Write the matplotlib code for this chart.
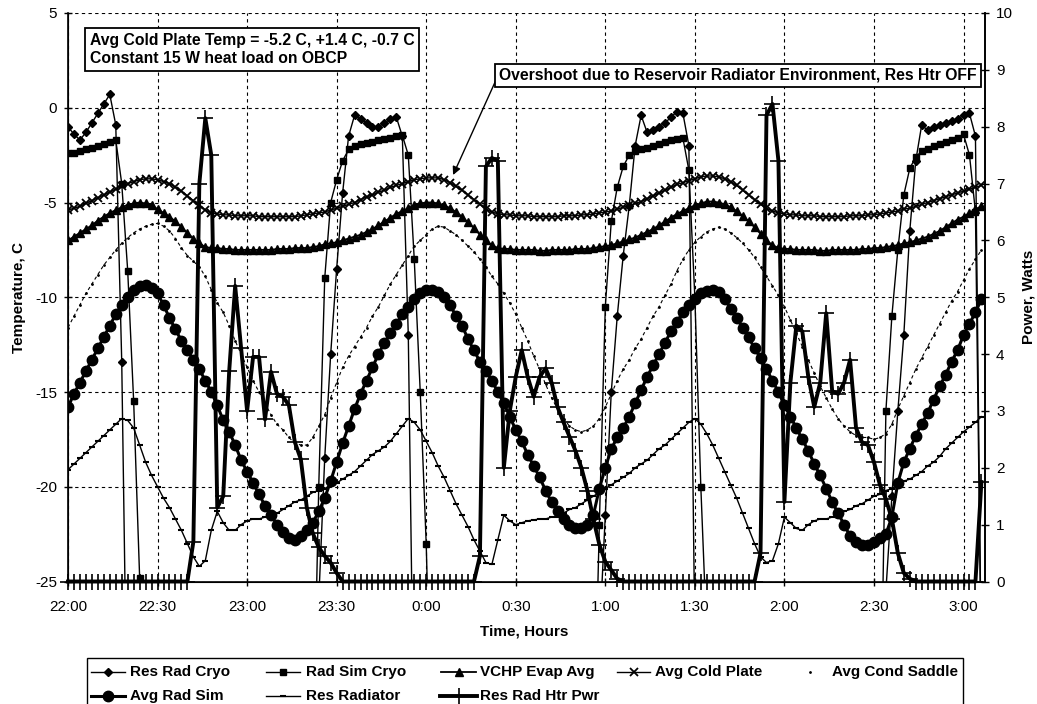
import numpy as np
import matplotlib
matplotlib.use("Agg")
import matplotlib.pyplot as plt
from matplotlib.lines import Line2D
from matplotlib.patches import Rectangle

plt.rcParams['font.family'] = ['Liberation Sans', 'DejaVu Sans']
plt.rcParams['axes.unicode_minus'] = False

W, H = 1037, 704

# samples every 2 minutes, counted from 22:00
minutes = np.arange(0, 307, 2)
hour_ticks = np.arange(0, 301, 30)
hour_labels = ['22:00', '22:30', '23:00', '23:30', '0:00', '0:30',
               '1:00', '1:30', '2:00', '2:30', '3:00']

LOW = -35.0   # readings below the -25 C floor of the chart

# temperatures, C
res_rad_cryo = [
    -1.0, -1.4, -1.7, -1.3, -0.8, -0.3, 0.2, 0.7, -0.9, -13.4,
    LOW, LOW, LOW, LOW, LOW, LOW, LOW, LOW, LOW, LOW,
    LOW, LOW, LOW, LOW, LOW, LOW, LOW, LOW, LOW, LOW,
    LOW, LOW, LOW, LOW, LOW, LOW, LOW, LOW, LOW, LOW,
    LOW, LOW, -26.0, -18.5, -13.0, -8.5, -4.5, -1.5, -0.4, -0.6,
    -0.8, -1.0, -1.0, -0.8, -0.6, -0.5, -1.5, -12.0, LOW, LOW,
    LOW, LOW, LOW, LOW, LOW, LOW, LOW, LOW, LOW, LOW,
    LOW, LOW, LOW, LOW, LOW, LOW, LOW, LOW, LOW, LOW,
    LOW, LOW, LOW, LOW, LOW, LOW, LOW, LOW, LOW, -28.0,
    -21.5, -15.0, -11.0, -7.8, -5.2, -2.0, -0.4, -1.3, -1.2, -1.0,
    -0.8, -0.5, -0.2, -0.3, -2.0, -28.0, LOW, LOW, LOW, LOW,
    LOW, LOW, LOW, LOW, LOW, LOW, LOW, LOW, LOW, LOW,
    LOW, LOW, LOW, LOW, LOW, LOW, LOW, LOW, LOW, LOW,
    LOW, LOW, LOW, LOW, LOW, LOW, LOW, -25.5, -20.5, -16.0,
    -12.0, -6.5, -2.8, -0.9, -1.2, -1.0, -0.9, -0.8, -0.7, -0.6,
    -0.4, -0.3, -1.5, -30.0,
]

rad_sim_cryo = [
    -2.4, -2.4, -2.3, -2.2, -2.1, -2.0, -1.9, -1.8, -1.7, -4.0,
    -8.6, -15.5, -24.8, LOW, LOW, LOW, LOW, LOW, LOW, LOW,
    LOW, LOW, LOW, LOW, LOW, LOW, LOW, LOW, LOW, LOW,
    LOW, LOW, LOW, LOW, LOW, LOW, LOW, LOW, LOW, LOW,
    LOW, LOW, -20.0, -9.0, -5.0, -3.8, -2.8, -2.2, -2.0, -1.9,
    -1.85, -1.8, -1.7, -1.65, -1.6, -1.5, -1.45, -2.5, -8.0, -15.0,
    -23.0, LOW, LOW, LOW, LOW, LOW, LOW, LOW, LOW, LOW,
    LOW, LOW, LOW, LOW, LOW, LOW, LOW, LOW, LOW, LOW,
    LOW, LOW, LOW, LOW, LOW, LOW, LOW, LOW, LOW, -22.0,
    -10.5, -6.0, -4.2, -3.1, -2.5, -2.3, -2.2, -2.1, -2.0, -1.9,
    -1.8, -1.7, -1.65, -1.6, -3.3, -10.0, -20.0, -28.0, LOW, LOW,
    LOW, LOW, LOW, LOW, LOW, LOW, LOW, LOW, LOW, LOW,
    LOW, LOW, LOW, LOW, LOW, LOW, LOW, LOW, LOW, LOW,
    LOW, LOW, LOW, LOW, LOW, LOW, LOW, -16.0, -11.0, -7.5,
    -4.6, -3.2, -2.6, -2.3, -2.2, -2.0, -1.9, -1.8, -1.7, -1.6,
    -1.4, -2.5, -5.5, -30.0,
]

vchp_evap = [
    -7.0, -6.8, -6.6, -6.4, -6.2, -5.95, -5.75, -5.55, -5.4, -5.25,
    -5.12, -5.05, -5.0, -5.05, -5.15, -5.35, -5.55, -5.75, -6.0, -6.3,
    -6.6, -6.9, -7.15, -7.35, -7.4, -7.4, -7.45, -7.45, -7.5, -7.5,
    -7.5, -7.5, -7.5, -7.5, -7.5, -7.45, -7.45, -7.45, -7.4, -7.4,
    -7.4, -7.35, -7.3, -7.2, -7.15, -7.1, -7.0, -6.9, -6.8, -6.7,
    -6.55, -6.4, -6.2, -6.0, -5.8, -5.6, -5.45, -5.3, -5.15, -5.05,
    -5.0, -5.0, -5.05, -5.15, -5.3, -5.5, -5.75, -6.05, -6.35, -6.7,
    -7.0, -7.25, -7.4, -7.45, -7.45, -7.5, -7.5, -7.5, -7.5, -7.55,
    -7.55, -7.5, -7.5, -7.5, -7.5, -7.45, -7.45, -7.45, -7.4, -7.35,
    -7.3, -7.25, -7.15, -7.05, -6.95, -6.85, -6.7, -6.55, -6.4, -6.2,
    -6.0, -5.8, -5.6, -5.45, -5.3, -5.15, -5.05, -4.95, -4.95, -5.0,
    -5.1, -5.25, -5.45, -5.7, -6.0, -6.3, -6.65, -7.0, -7.25, -7.4,
    -7.45, -7.45, -7.5, -7.5, -7.5, -7.5, -7.55, -7.55, -7.5, -7.5,
    -7.5, -7.5, -7.5, -7.45, -7.45, -7.4, -7.4, -7.35, -7.3, -7.25,
    -7.15, -7.1, -7.0, -6.9, -6.8, -6.65, -6.5, -6.3, -6.1, -5.9,
    -5.75, -5.55, -5.35, -5.2,
]

avg_cold_plate = [
    -5.4, -5.3, -5.2, -5.05, -4.9, -4.75, -4.6, -4.45, -4.3, -4.15,
    -4.0, -3.9, -3.8, -3.75, -3.75, -3.8, -3.9, -4.0, -4.2, -4.4,
    -4.65, -4.9, -5.15, -5.4, -5.55, -5.6, -5.65, -5.65, -5.7, -5.7,
    -5.7, -5.7, -5.75, -5.75, -5.75, -5.75, -5.75, -5.75, -5.75, -5.7,
    -5.65, -5.6, -5.55, -5.5, -5.4, -5.3, -5.2, -5.1, -5.0, -4.85,
    -4.7, -4.6, -4.45, -4.35, -4.2, -4.1, -4.0, -3.9, -3.8, -3.75,
    -3.7, -3.7, -3.7, -3.8, -3.95, -4.15, -4.35, -4.6, -4.85, -5.1,
    -5.35, -5.5, -5.6, -5.65, -5.65, -5.7, -5.7, -5.7, -5.75, -5.75,
    -5.75, -5.75, -5.75, -5.7, -5.7, -5.7, -5.65, -5.65, -5.6, -5.55,
    -5.5, -5.45, -5.35, -5.25, -5.15, -5.05, -4.95, -4.8, -4.65, -4.5,
    -4.35, -4.2, -4.05, -3.95, -3.85, -3.75, -3.65, -3.6, -3.6, -3.65,
    -3.75, -3.9, -4.1, -4.35, -4.6, -4.85, -5.1, -5.3, -5.45, -5.55,
    -5.6, -5.65, -5.65, -5.7, -5.7, -5.7, -5.75, -5.75, -5.75, -5.75,
    -5.75, -5.7, -5.7, -5.7, -5.65, -5.65, -5.6, -5.55, -5.5, -5.45,
    -5.35, -5.3, -5.2, -5.1, -5.0, -4.9, -4.8, -4.7, -4.6, -4.5,
    -4.4, -4.3, -4.2, -4.1,
]

avg_cond_saddle = [
    -11.6, -11.0, -10.4, -9.8, -9.3, -8.8, -8.3, -7.9, -7.5, -7.15,
    -6.85, -6.6, -6.4, -6.25, -6.15, -6.1, -6.25, -6.5, -6.9, -7.4,
    -7.8, -8.1, -8.4, -8.9, -9.6, -10.3, -10.8, -11.5, -12.3, -13.0,
    -13.7, -14.4, -15.0, -15.6, -16.2, -16.7, -17.0, -17.4, -17.7, -17.8,
    -17.8, -17.4, -16.8, -16.2, -15.3, -14.5, -13.7, -13.1, -12.6, -12.1,
    -11.6, -11.0, -10.5, -9.9, -9.3, -8.8, -8.3, -7.8, -7.3, -7.0,
    -6.7, -6.4, -6.25, -6.3, -6.5, -6.7, -7.0, -7.3, -7.6, -8.0,
    -8.4, -8.9, -9.3, -9.8, -10.3, -10.9, -11.6, -12.3, -13.1, -13.8,
    -14.6, -15.3, -15.9, -16.4, -16.8, -17.0, -17.1, -17.0, -16.8, -16.4,
    -15.8, -15.1, -14.4, -13.8, -13.3, -12.7, -12.2, -11.6, -11.0, -10.5,
    -9.9, -9.3, -8.6, -8.0, -7.5, -7.1, -6.8, -6.55, -6.4, -6.3,
    -6.4, -6.6, -6.85, -7.15, -7.5, -7.9, -8.4, -8.9, -9.4, -9.9,
    -10.5, -11.2, -11.9, -12.6, -13.3, -14.0, -14.7, -15.3, -15.9, -16.4,
    -16.8, -17.1, -17.3, -17.4, -17.4, -17.5, -17.4, -17.2, -16.7, -15.9,
    -15.2, -14.5, -13.8, -13.2, -12.6, -12.0, -11.4, -10.8, -10.2, -9.7,
    -9.1, -8.5, -8.0, -7.5,
]

avg_rad_sim = [
    -15.8, -15.1, -14.5, -13.9, -13.3, -12.7, -12.1, -11.5, -10.9, -10.4,
    -10.0, -9.6, -9.4, -9.35, -9.5, -9.8, -10.4, -11.1, -11.7, -12.3,
    -12.8, -13.3, -13.8, -14.4, -15.0, -15.7, -16.5, -17.1, -17.8, -18.6,
    -19.2, -19.8, -20.4, -21.0, -21.5, -22.0, -22.4, -22.7, -22.8, -22.6,
    -22.3, -21.9, -21.3, -20.6, -19.7, -18.7, -17.7, -16.8, -15.9, -15.1,
    -14.4, -13.7, -13.0, -12.4, -11.9, -11.4, -10.9, -10.5, -10.1, -9.8,
    -9.6, -9.6, -9.7, -10.0, -10.4, -11.0, -11.5, -12.2, -12.8, -13.4,
    -13.9, -14.4, -15.0, -15.6, -16.3, -17.0, -17.6, -18.3, -18.9, -19.5,
    -20.2, -20.8, -21.3, -21.7, -22.0, -22.2, -22.2, -22.0, -21.5, -20.1,
    -19.0, -18.0, -17.4, -16.9, -16.3, -15.6, -14.9, -14.2, -13.6, -13.0,
    -12.4, -11.8, -11.3, -10.8, -10.4, -10.1, -9.8, -9.65, -9.6, -9.7,
    -10.1, -10.6, -11.1, -11.6, -12.1, -12.7, -13.2, -13.8, -14.4, -15.0,
    -15.7, -16.3, -16.9, -17.5, -18.1, -18.8, -19.4, -20.1, -20.8, -21.4,
    -22.0, -22.6, -22.9, -23.1, -23.1, -22.9, -22.7, -22.5, -21.6, -19.8,
    -18.7, -18.0, -17.3, -16.7, -16.1, -15.4, -14.7, -14.1, -13.4, -12.8,
    -12.0, -11.4, -10.8, -10.1,
]

res_radiator = [
    -19.1, -18.8, -18.5, -18.2, -17.9, -17.6, -17.3, -17.0, -16.7, -16.4,
    -16.5, -16.9, -17.8, -18.7, -19.4, -20.0, -20.6, -21.1, -21.7, -22.3,
    -23.0, -23.7, -24.2, -23.9, -22.3, -21.3, -21.9, -22.3, -22.3, -22.0,
    -21.8, -21.7, -21.7, -21.6, -21.5, -21.4, -21.2, -21.0, -20.8, -20.7,
    -20.5, -20.3, -20.2, -20.1, -19.9, -19.8, -19.6, -19.4, -19.2, -18.9,
    -18.6, -18.3, -18.1, -17.9, -17.6, -17.2, -16.8, -16.4, -16.6, -17.0,
    -17.6, -18.2, -18.9, -19.5, -20.2, -20.9, -21.5, -22.1, -22.8, -23.4,
    -24.0, -24.1, -22.8, -21.5, -21.8, -22.0, -21.9, -21.8, -21.75, -21.7,
    -21.7, -21.6, -21.6, -21.4, -21.2, -21.1, -20.9, -20.7, -20.5, -20.3,
    -20.1, -19.9, -19.7, -19.5, -19.3, -19.0, -18.8, -18.6, -18.3, -18.0,
    -17.8, -17.5, -17.2, -16.9, -16.6, -16.4, -16.7, -17.2, -17.8, -18.5,
    -19.2, -19.9, -20.6, -21.4, -22.2, -23.0, -23.7, -24.0, -23.9, -23.0,
    -21.6, -21.9, -22.2, -22.3, -22.0, -21.8, -21.7, -21.7, -21.6, -21.5,
    -21.3, -21.2, -21.0, -20.9, -20.7, -20.5, -20.4, -20.2, -20.1, -19.9,
    -19.7, -19.6, -19.4, -19.2, -18.9, -18.7, -18.4, -18.0, -17.7, -17.4,
    -17.1, -16.85, -16.6, -16.3,
]

# heater power, W (right axis)
res_rad_htr_pwr = [
    0, 0, 0, 0, 0, 0, 0, 0, 0, 0,
    0, 0, 0, 0, 0, 0, 0, 0, 0, 0,
    0, 0.7, 7.0, 8.15, 7.5, 1.3, 1.5, 3.7, 5.2, 4.1,
    3.0, 3.95, 3.95, 2.85, 3.69, 3.3, 3.25, 3.1, 2.45, 2.15,
    1.3, 0.85, 0.6, 0.45, 0.33, 0.15, 0, 0, 0, 0,
    0, 0, 0, 0, 0, 0, 0, 0, 0, 0,
    0, 0, 0, 0, 0, 0, 0, 0, 0, 0.45,
    7.3, 7.45, 7.4, 2.0, 3.0, 3.6, 4.07, 3.6, 3.25, 3.6,
    3.75, 3.5, 3.07, 2.8, 2.55, 2.3, 2.0, 1.6, 1.1, 0.65,
    0.35, 0.2, 0.05, 0, 0, 0, 0, 0, 0, 0,
    0, 0, 0, 0, 0, 0, 0, 0, 0, 0,
    0, 0, 0, 0, 0, 0, 0.5, 8.2, 8.4, 7.4,
    1.4, 3.5, 4.5, 4.4, 3.6, 3.07, 3.5, 4.72, 3.35, 3.3,
    3.5, 3.9, 2.7, 2.45, 2.4, 2.1, 1.7, 1.45, 1.1, 0.5,
    0.15, 0.05, 0, 0, 0, 0, 0, 0, 0, 0,
    0, 0, 0, 1.75,
]

series = [
    ('Res Rad Cryo', res_rad_cryo, dict(marker='D', ms=4.2, lw=1.0)),
    ('Rad Sim Cryo', rad_sim_cryo, dict(marker='s', ms=5, lw=1.0)),
    ('VCHP Evap Avg', vchp_evap, dict(marker='^', ms=5.5, lw=1.3)),
    ('Avg Cold Plate', avg_cold_plate, dict(marker='x', ms=5.5, mew=1.3, lw=1.0)),
    ('Avg Cond Saddle', avg_cond_saddle, dict(marker='.', ms=2, lw=0.8, ls=(0, (3, 2.5)))),
    ('Avg Rad Sim', avg_rad_sim, dict(marker='o', ms=7.5, lw=2.2)),
    ('Res Radiator', res_radiator, dict(marker='_', ms=5, mew=1.5, lw=1.0)),
]
htr_style = dict(marker='+', ms=11, mew=1.2, lw=2.8)

for _, vals, _ in series:
    assert len(vals) == len(minutes)
assert len(res_rad_htr_pwr) == len(minutes)

fig = plt.figure(figsize=(W / 100, H / 100), dpi=100)
ax = fig.add_axes([68 / W, 1 - 581.5 / H, (985 - 68) / W, (581.5 - 13) / H])

for name, vals, st in series:
    ax.plot(minutes, vals, color='black', label=name, **st)

ax.set_xlim(0, 307.2)
ax.set_ylim(-25, 5)
ax.set_xticks(hour_ticks)
ax.set_xticklabels(hour_labels)
ax.set_yticks(np.arange(-25, 6, 5))
ax.grid(True, color='black', linestyle=(0, (3, 3)), linewidth=0.8)
ax.spines['top'].set_visible(False)
for s in ('left', 'bottom', 'right'):
    ax.spines[s].set_linewidth(1.2)
ax.tick_params(direction='inout', length=6, width=1, labelsize=11)
ax.tick_params(axis='x', pad=10)
ax.tick_params(axis='y', pad=5)

ax.set_xlabel('Time, Hours', fontsize=11, fontweight='bold')
ax.xaxis.set_label_coords(0.498, -0.075)
ax.set_ylabel('Temperature, C', fontsize=11, fontweight='bold')
ax.yaxis.set_label_coords(-0.046, 0.5)

ax2 = ax.twinx()
ax2.plot(minutes, res_rad_htr_pwr, color='black', clip_on=False,
         label='Res Rad Htr Pwr', **htr_style)
ax2.set_ylim(0, 10)
ax2.set_yticks(np.arange(0, 11, 1))
ax2.spines['top'].set_visible(False)
ax2.spines['right'].set_linewidth(1.2)
ax2.tick_params(direction='inout', length=6, width=1, labelsize=11, pad=5)
ax2.set_ylabel('Power, Watts', fontsize=11, fontweight='bold')
ax2.yaxis.set_label_coords(1.040, 0.5)

# notes
fig.text(90 / W, 1 - 49.5 / H,
         'Avg Cold Plate Temp = -5.2 C, +1.4 C, -0.7 C\nConstant 15 W heat load on OBCP',
         ha='left', va='center', fontsize=11.3, fontweight='bold', linespacing=1.3,
         bbox=dict(boxstyle='square,pad=0.3', fc='white', ec='black', lw=1.3))
fig.text(499 / W, 1 - 75.5 / H,
         'Overshoot due to Reservoir Radiator Environment, Res Htr OFF',
         ha='left', va='center', fontsize=11.3, fontweight='bold',
         bbox=dict(boxstyle='square,pad=0.25', fc='white', ec='black', lw=1.3))
ax.annotate('', xy=(129, -3.55), xycoords='data',
            xytext=(496, H - 80), textcoords='figure pixels',
            arrowprops=dict(arrowstyle='-|>', color='black', lw=1.0,
                            mutation_scale=12, shrinkA=0, shrinkB=0))

# legend, drawn by hand to keep the fixed column grid
fig.add_artist(Rectangle((87 / W, 1 - 706 / H), (963 - 87) / W, 48 / H,
                         transform=fig.transFigure, fill=False,
                         ec='black', lw=1.0, clip_on=False))


def legend_entry(x0, x1, xt, y, label, st, line=True):
    yf = 1 - y / H
    xm = (x0 + x1) / 2
    st = dict(st)
    st['ls'] = '-' if line else 'none'
    fig.add_artist(Line2D([x0 / W, xm / W, x1 / W], [yf, yf, yf],
                          transform=fig.transFigure, color='black',
                          markevery=[1], **st))
    fig.text(xt / W, yf, label, ha='left', va='center',
             fontsize=11, fontweight='bold')


styles = {name: st for name, _, st in series}
legend_entry(91, 125, 130, 672, 'Res Rad Cryo', styles['Res Rad Cryo'])
legend_entry(266, 300, 306, 672, 'Rad Sim Cryo', styles['Rad Sim Cryo'])
legend_entry(441, 476, 480, 672, 'VCHP Evap Avg', styles['VCHP Evap Avg'])
legend_entry(617, 650, 655, 672, 'Avg Cold Plate', styles['Avg Cold Plate'])
legend_entry(800, 820, 832, 672, 'Avg Cond Saddle', styles['Avg Cond Saddle'], line=False)
legend_entry(91, 125, 130, 696, 'Avg Rad Sim', styles['Avg Rad Sim'])
legend_entry(266, 300, 306, 696, 'Res Radiator', styles['Res Radiator'])
legend_entry(440, 477, 480, 696, 'Res Rad Htr Pwr', htr_style)

fig.savefig('out.png', dpi=100)
